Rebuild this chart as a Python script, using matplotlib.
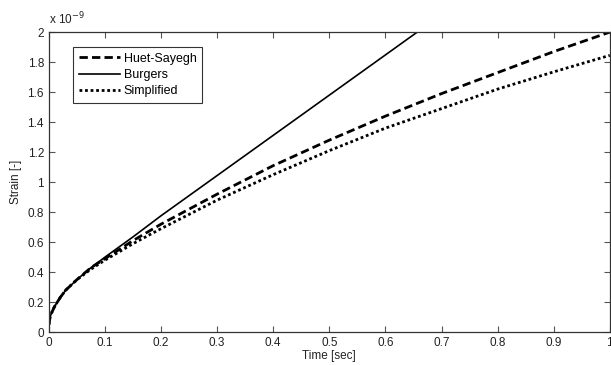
import numpy as np
import matplotlib
matplotlib.use('Agg')
import matplotlib.pyplot as plt

plt.rcParams['font.family'] = ['Liberation Sans', 'DejaVu Sans']

# strain values in units of 1e-9
t_hs = [0, 0.002, 0.005, 0.01, 0.02, 0.03, 0.05, 0.075, 0.1, 0.15, 0.2,
        0.3, 0.4, 0.5, 0.6, 0.7, 0.8, 0.9, 1.0]
huet_sayegh = [0.05, 0.10, 0.13, 0.17, 0.23, 0.28, 0.35, 0.43, 0.49, 0.61, 0.72,
               0.92, 1.11, 1.28, 1.44, 1.59, 1.73, 1.87, 2.0]

t_bu = [0, 0.002, 0.005, 0.01, 0.02, 0.03, 0.05, 0.075, 0.1, 0.15, 0.2,
        0.3, 0.4, 0.5, 0.6, 0.7]
burgers = [0.05, 0.10, 0.13, 0.17, 0.23, 0.28, 0.35, 0.43, 0.50, 0.635, 0.776,
           1.044, 1.312, 1.58, 1.848, 2.116]

t_si = [0, 0.002, 0.005, 0.01, 0.02, 0.03, 0.05, 0.075, 0.1, 0.15, 0.2,
        0.3, 0.4, 0.5, 0.6, 0.7, 0.8, 0.9, 1.0]
simplified = [0.05, 0.10, 0.13, 0.17, 0.23, 0.28, 0.35, 0.42, 0.48, 0.59, 0.69,
              0.88, 1.05, 1.21, 1.36, 1.49, 1.62, 1.735, 1.845]

fig = plt.figure(figsize=(6.11, 3.65), dpi=100)
ax = fig.add_axes([0.080, 0.090, 0.918, 0.822])

ax.plot(t_hs, huet_sayegh, color='black', ls=(0, (3, 1.5)), lw=2.0, label='Huet-Sayegh')
ax.plot(t_bu, burgers, color='black', ls='-', lw=1.2, label='Burgers')
ax.plot(t_si, simplified, color='black', ls=(0, (1, 1)), lw=2.0, label='Simplified')

ax.set_xlim(0, 1)
ax.set_ylim(0, 2)
ax.set_xticks(np.arange(0, 1.01, 0.1))
ax.set_xticklabels(['0', '0.1', '0.2', '0.3', '0.4', '0.5', '0.6', '0.7', '0.8', '0.9', '1'])
ax.set_yticks(np.arange(0, 2.01, 0.2))
ax.set_yticklabels(['0', '0.2', '0.4', '0.6', '0.8', '1', '1.2', '1.4', '1.6', '1.8', '2'])
ax.tick_params(direction='in', top=True, right=True, labelsize=8.5, length=4,
               color='#555555', labelcolor='#222222')
for s in ax.spines.values():
    s.set_color('#333333')
    s.set_linewidth(0.9)

ax.set_xlabel('Time [sec]', fontsize=8.5, labelpad=1, color='#222222')
ax.set_ylabel('Strain [-]', fontsize=8.5, labelpad=4, color='#222222')
ax.text(0.0, 1.015, r'x 10$^{-9}$', transform=ax.transAxes, fontsize=8.5,
        ha='left', va='bottom', color='#222222')

leg = ax.legend(loc='upper left', bbox_to_anchor=(0.043, 0.95), fontsize=9,
                frameon=True, fancybox=False, handlelength=3.3, handletextpad=0.3,
                borderpad=0.45, labelspacing=0.35, borderaxespad=0)
leg.get_frame().set_edgecolor('black')
leg.get_frame().set_linewidth(0.8)

fig.savefig('out.png', dpi=100)
